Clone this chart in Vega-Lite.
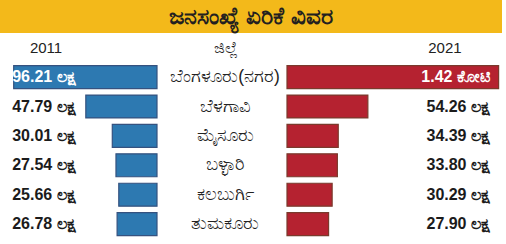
{
  "$schema": "https://vega.github.io/schema/vega-lite/v6.json",
  "padding": 0,
  "background": "white",
  "spacing": 0,
  "config": {"view": {"stroke": null}, "font": "Liberation Sans Narrow, Liberation Sans, sans-serif"},
  "datasets": {
    "rows": [
      {"district": "ಬೆಂಗಳೂರು(ನಗರ)", "v2011": 96.21, "v2021": 142, "l2011": "96.21 ಲಕ್ಷ", "l2021": "1.42 ಕೋಟಿ"},
      {"district": "ಬೆಳಗಾವಿ", "v2011": 47.79, "v2021": 54.26, "l2011": "47.79 ಲಕ್ಷ", "l2021": "54.26 ಲಕ್ಷ"},
      {"district": "ಮೈಸೂರು", "v2011": 30.01, "v2021": 34.39, "l2011": "30.01 ಲಕ್ಷ", "l2021": "34.39 ಲಕ್ಷ"},
      {"district": "ಬಳ್ಳಾರಿ", "v2011": 27.54, "v2021": 33.80, "l2011": "27.54 ಲಕ್ಷ", "l2021": "33.80 ಲಕ್ಷ"},
      {"district": "ಕಲಬುರ್ಗಿ", "v2011": 25.66, "v2021": 30.29, "l2011": "25.66 ಲಕ್ಷ", "l2021": "30.29 ಲಕ್ಷ"},
      {"district": "ತುಮಕೂರು", "v2011": 26.78, "v2021": 27.90, "l2011": "26.78 ಲಕ್ಷ", "l2021": "27.90 ಲಕ್ಷ"}
    ]
  },
  "vconcat": [
    {
      "width": 502,
      "height": 33,
      "view": {"fill": "#F3B91A", "stroke": null},
      "data": {"values": [{"t": "ಜನಸಂಖ್ಯೆ ಏರಿಕೆ ವಿವರ"}]},
      "mark": {"type": "text", "fontSize": 23, "fontWeight": "bold", "color": "#231f20"},
      "encoding": {"text": {"field": "t"}}
    },
    {
      "spacing": 0,
      "hconcat": [
        {
          "width": 157,
          "height": 205.8,
          "data": {"name": "rows"},
          "layer": [
            {
              "mark": {"type": "bar", "color": "#2D79B1", "stroke": "#35527F", "strokeWidth": 1.2, "height": {"band": 0.78}},
              "encoding": {
                "y": {"field": "district", "type": "nominal", "axis": null,
                      "scale": {"domain": ["ಜಿಲ್ಲೆ", "ಬೆಂಗಳೂರು(ನಗರ)", "ಬೆಳಗಾವಿ", "ಮೈಸೂರು", "ಬಳ್ಳಾರಿ", "ಕಲಬುರ್ಗಿ", "ತುಮಕೂರು"], "paddingInner": 0, "paddingOuter": 0}},
                "x": {"field": "v2011", "type": "quantitative", "axis": null, "scale": {"domain": [0, 105.4], "reverse": true, "nice": false, "zero": true}}
              }
            },
            {
              "mark": {"type": "text", "align": "left", "fontSize": 16, "fontWeight": "bold"},
              "encoding": {
                "y": {"field": "district", "type": "nominal"},
                "x": {"datum": 97.2, "type": "quantitative"},
                "text": {"field": "l2011"},
                "color": {"condition": {"test": "datum.v2011 > 90", "value": "#ffffff"}, "value": "#1b1b1b"}
              }
            },
            {
              "data": {"values": [{"h": "2011"}]},
              "mark": {"type": "text", "fontSize": 15, "color": "#222222"},
              "encoding": {
                "y": {"datum": "ಜಿಲ್ಲೆ", "type": "nominal"},
                "x": {"datum": 74.5, "type": "quantitative"},
                "text": {"field": "h"}
              }
            }
          ]
        },
        {
          "width": 128,
          "height": 205.8,
          "data": {"name": "rows"},
          "layer": [
            {
              "mark": {"type": "text", "fontSize": 17.5, "color": "#222222", "dx": 3},
              "encoding": {
                "y": {"field": "district", "type": "nominal", "axis": null,
                      "scale": {"domain": ["ಜಿಲ್ಲೆ", "ಬೆಂಗಳೂರು(ನಗರ)", "ಬೆಳಗಾವಿ", "ಮೈಸೂರು", "ಬಳ್ಳಾರಿ", "ಕಲಬುರ್ಗಿ", "ತುಮಕೂರು"], "paddingInner": 0, "paddingOuter": 0}},
                "text": {"field": "district"}
              }
            },
            {
              "data": {"values": [{"h": "ಜಿಲ್ಲೆ"}]},
              "mark": {"type": "text", "fontSize": 16, "color": "#222222", "dx": 4},
              "encoding": {
                "y": {"datum": "ಜಿಲ್ಲೆ", "type": "nominal"},
                "text": {"field": "h"}
              }
            }
          ]
        },
        {
          "width": 221,
          "height": 205.8,
          "data": {"name": "rows"},
          "layer": [
            {
              "mark": {"type": "bar", "color": "#B52230", "stroke": "#7A3A2C", "strokeWidth": 1.2, "height": {"band": 0.78}},
              "encoding": {
                "y": {"field": "district", "type": "nominal", "axis": null,
                      "scale": {"domain": ["ಜಿಲ್ಲೆ", "ಬೆಂಗಳೂರು(ನಗರ)", "ಬೆಳಗಾವಿ", "ಮೈಸೂರು", "ಬಳ್ಳಾರಿ", "ಕಲಬುರ್ಗಿ", "ತುಮಕೂರು"], "paddingInner": 0, "paddingOuter": 0}},
                "x": {"field": "v2021", "type": "quantitative", "axis": null, "scale": {"domain": [0, 148.3], "nice": false, "zero": true}}
              }
            },
            {
              "mark": {"type": "text", "align": "right", "fontSize": 16, "fontWeight": "bold"},
              "encoding": {
                "y": {"field": "district", "type": "nominal"},
                "x": {"datum": 136.2, "type": "quantitative"},
                "text": {"field": "l2021"},
                "color": {"condition": {"test": "datum.v2021 > 100", "value": "#ffffff"}, "value": "#1b1b1b"}
              }
            },
            {
              "data": {"values": [{"h": "2021"}]},
              "mark": {"type": "text", "fontSize": 15, "color": "#222222"},
              "encoding": {
                "y": {"datum": "ಜಿಲ್ಲೆ", "type": "nominal"},
                "x": {"datum": 106, "type": "quantitative"},
                "text": {"field": "h"}
              }
            }
          ]
        }
      ]
    }
  ]
}
